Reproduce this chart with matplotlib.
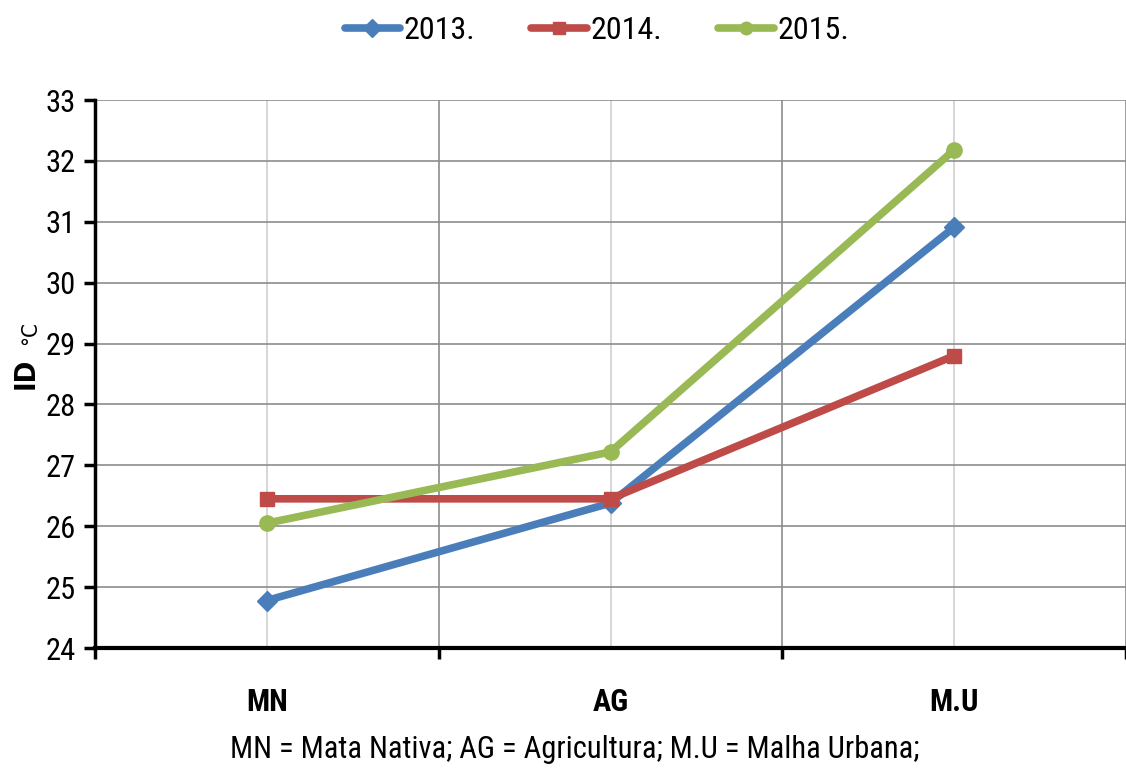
import matplotlib
matplotlib.use("Agg")
import matplotlib.pyplot as plt
from matplotlib.ticker import FixedLocator
from matplotlib import font_manager as fm

# find a narrow (Calibri-like) font if one is installed
narrow = None
cands = []
for f in fm.fontManager.ttflist:
    st = f.stretch
    if isinstance(st, str):
        st = fm.stretch_dict.get(st, 500)
    if ('Narrow' in f.name or 'Condensed' in f.name or st < 500) and 'Mono' not in f.name:
        cands.append((f.name, st, f.fname))
pref = ['Liberation Sans Narrow', 'Open Sans', 'Noto Sans', 'Roboto', 'DejaVu Sans']
chosen_file = None
for p in pref:
    for n, st, fn in cands:
        if n.startswith(p) and st <= 400 and 'Italic' not in fn and 'Bold' not in fn and 'Light' not in fn:
            chosen_file = fn
            narrow = n
            break
    if chosen_file:
        break

famname = narrow if chosen_file else 'DejaVu Sans'
plt.rcParams['font.family'] = [famname, 'DejaVu Sans']
if chosen_file:
    plt.rcParams['font.stretch'] = 'condensed'

categories = ["MN", "AG", "M.U"]
years = ["2013.", "2014.", "2015."]
v2013 = [24.78, 26.38, 30.91]
v2014 = [26.45, 26.45, 28.80]
v2015 = [26.05, 27.22, 32.18]
yticks = list(range(24, 34))

fig = plt.figure(figsize=(11.26, 7.75), dpi=100)
ax = fig.add_axes([95/1126, 1-648/775, (1126-95)/1126, (648-100)/775])

x = list(range(len(categories)))
styles = [
    (v2013, "#4a7ebb", "D", 10),
    (v2014, "#be4b48", "s", 10),
    (v2015, "#98b954", "o", 11),
]
for (vals, col, mk, ms), lab in zip(styles, years):
    ax.plot(x, vals, color=col, lw=5.5, marker=mk, markersize=ms,
            markeredgecolor=col, label=lab, solid_capstyle='round', zorder=3)

ax.set_xlim(-0.5, 2.5)
ax.set_ylim(24, 33)
ax.set_yticks(yticks)
ax.set_yticklabels([str(t) for t in yticks], fontsize=22)
ax.xaxis.set_major_locator(FixedLocator([-0.5, 0.5, 1.5, 2.5]))
ax.xaxis.set_minor_locator(FixedLocator(x))
ax.set_xticklabels([])
ax.set_xticklabels(categories, minor=True, fontsize=22, fontweight='bold')
ax.tick_params(axis='x', which='minor', length=0, pad=28)
ax.tick_params(axis='x', which='major', length=8, width=2.5, direction='out')
ax.tick_params(axis='y', length=8, width=2.5, direction='out', pad=6)

ax.grid(axis='y', color='#8c8c8c', lw=1.2, zorder=0)
ax.grid(axis='x', which='major', color='#8c8c8c', lw=1.2, zorder=0)
ax.grid(axis='x', which='minor', color='#d0d0d0', lw=1.2, zorder=0)

for s in ['top', 'right']:
    ax.spines[s].set_visible(False)
ax.spines['left'].set_linewidth(2.5)
ax.spines['bottom'].set_linewidth(3)

fig.text(40/1126, 1-389/775, "ID", rotation=90, fontsize=21, fontweight='bold',
         family='DejaVu Sans', ha='right', va='bottom')
fig.text(40/1126, 1-345/775, "°C", rotation=90, fontsize=16,
         family='DejaVu Sans', ha='right', va='bottom')

fig.text(0.51, 1-750/775, "MN = Mata Nativa; AG = Agricultura; M.U = Malha Urbana;",
         fontsize=22, ha='center', va='center')

leg = fig.legend(loc='upper center', bbox_to_anchor=(0.53, 1.016), ncol=3,
                 frameon=False, fontsize=23, handlelength=1.75, columnspacing=1.75,
                 handletextpad=0.1)
for h in leg.legend_handles:
    h.set_markersize(9)
    h.set_linewidth(5.5)

fig.savefig("out.png", dpi=100)
